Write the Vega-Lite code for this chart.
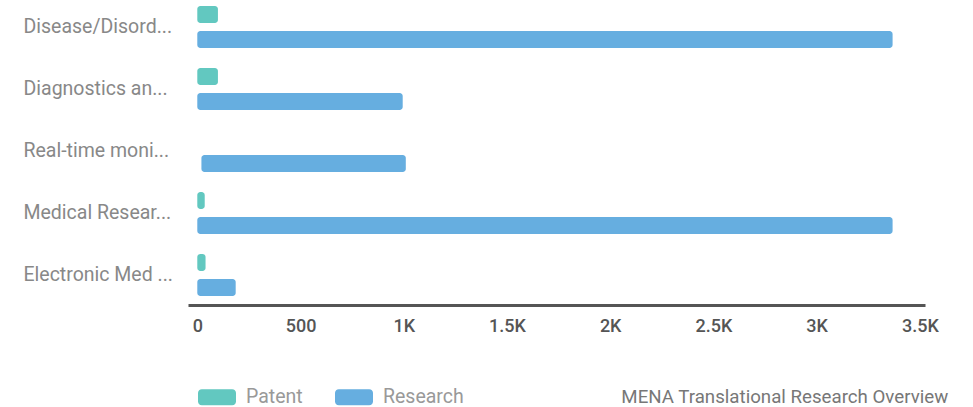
{
  "$schema": "https://vega.github.io/schema/vega-lite/v6.json",
  "width": 737,
  "height": 302,
  "autosize": {"type": "none"},
  "padding": {"left": 188, "top": 0, "right": 48, "bottom": 105},
  "background": "white",
  "config": {"font": "Roboto", "view": {"stroke": null}},
  "title": {"text": "MENA Translational Research Overview", "orient": "bottom", "anchor": "end", "offset": -19, "dx": 10, "fontSize": 18.7, "fontWeight": "normal", "color": "#777777", "font": "Roboto"},
  "data": {"values": [
    {"category": "Disease/Disord...", "type": "Patent", "start": 0, "value": 100},
    {"category": "Disease/Disord...", "type": "Research", "start": 0, "value": 3368},
    {"category": "Diagnostics an...", "type": "Patent", "start": 0, "value": 100},
    {"category": "Diagnostics an...", "type": "Research", "start": 0, "value": 995},
    {"category": "Real-time moni...", "type": "Patent", "start": 0, "value": 0},
    {"category": "Real-time moni...", "type": "Research", "start": 20, "value": 1010},
    {"category": "Medical Resear...", "type": "Patent", "start": 0, "value": 36},
    {"category": "Medical Resear...", "type": "Research", "start": 0, "value": 3368},
    {"category": "Electronic Med ...", "type": "Patent", "start": 0, "value": 40},
    {"category": "Electronic Med ...", "type": "Research", "start": 0, "value": 186}
  ]},
  "mark": {"type": "bar", "cornerRadius": 3},
  "encoding": {
    "y": {"field": "category", "type": "nominal", "sort": ["Disease/Disord...", "Diagnostics an...", "Real-time moni...", "Medical Resear...", "Electronic Med ..."],
      "scale": {"paddingInner": 0.3226, "paddingOuter": 0.097},
      "axis": {"title": null, "domain": false, "ticks": false, "labelAlign": "left", "labelPadding": 165, "labelColor": "#888888", "labelFontSize": 19.5, "labelLimit": 300, "labelFont": "Roboto"}},
    "yOffset": {"field": "type", "type": "nominal", "sort": ["Patent", "Research"], "scale": {"paddingInner": 0.32, "paddingOuter": 0}},
    "x": {"field": "value", "type": "quantitative",
      "scale": {"domain": [-45, 3525], "nice": false, "zero": false},
      "axis": {"title": null, "grid": false, "ticks": false, "domainWidth": 3, "domainColor": "#555555", "offset": 3, "values": [0, 500, 1000, 1500, 2000, 2500, 3000, 3500],
        "labelExpr": "datum.value == 0 ? '0' : (datum.value < 1000 ? datum.value : (datum.value / 1000) + 'K')",
        "labelColor": "#555555", "labelFontSize": 18, "labelPadding": 12, "labelFont": "Roboto", "labelFontWeight": 500}},
    "x2": {"field": "start"},
    "color": {"field": "type", "type": "nominal",
      "scale": {"domain": ["Patent", "Research"], "range": ["#62C8C0", "#66AEE0"]},
      "legend": {"title": null, "orient": "none", "direction": "horizontal", "legendX": 10, "legendY": 378,
        "symbolType": "M-0.8,-0.42 L0.8,-0.42 A0.2,0.2 0 0 1 1,-0.22 L1,0.22 A0.2,0.2 0 0 1 0.8,0.42 L-0.8,0.42 A0.2,0.2 0 0 1 -1,0.22 L-1,-0.22 A0.2,0.2 0 0 1 -0.8,-0.42 Z",
        "symbolSize": 1444, "symbolStrokeWidth": 0, "symbolOpacity": 1,
        "labelFontSize": 19.5, "labelColor": "#999999", "labelFont": "Roboto", "labelOffset": 10, "columnPadding": 32}}
  }
}
